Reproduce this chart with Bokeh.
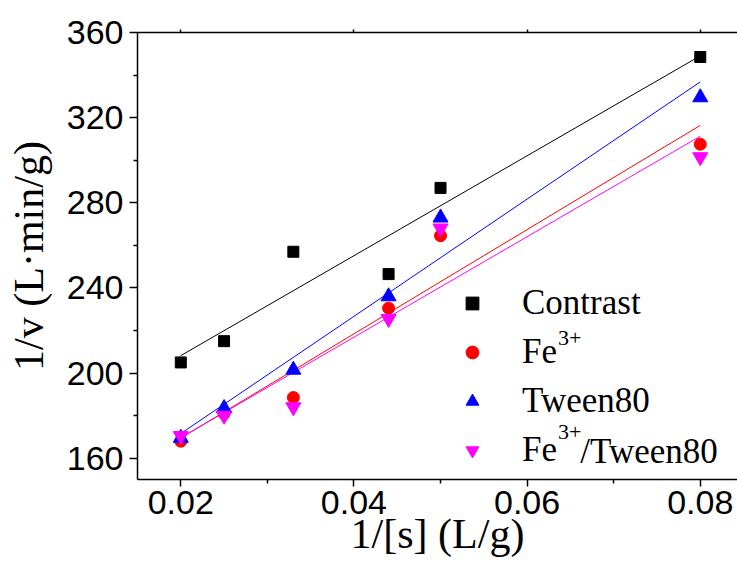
import numpy as np
from bokeh.plotting import figure
from bokeh.models import Legend, LegendItem, Label, LinearAxis, SingleIntervalTicker, Range1d, FixedTicker
from bokeh.embed import file_html
from bokeh.resources import INLINE

# ---- data ----
inv_s = [0.02, 0.025, 0.033, 0.044, 0.05, 0.08]
contrast = [205, 215, 257, 246.5, 287, 348.5]
fe = [168, 181, 188.5, 230.5, 264.5, 307.5]
tween = [169.5, 183.5, 201.5, 236, 273, 329.5]
fe_tween = [170.5, 180, 184, 225.5, 268, 301.5]
x_ticks = [0.02, 0.04, 0.06, 0.08]
y_ticks = [160, 200, 240, 280, 320, 360]

SERIF = "Liberation Serif"
SANS = "Liberation Sans"

p = figure(width=737, height=569, output_backend="svg", toolbar_location=None,
           x_range=Range1d(0.015, 0.0843), y_range=Range1d(150, 360),
           min_border_left=137, min_border_right=0, min_border_top=32, min_border_bottom=90,
           x_axis_location=None, y_axis_location=None)
p.outline_line_color = None
p.xgrid.visible = False
p.ygrid.visible = False
p.background_fill_color = "white"

def style_axis(ax, tick_out, minor_out):
    ax.axis_line_width = 1.5
    ax.axis_line_color = "black"
    ax.major_tick_in = 0
    ax.major_tick_out = tick_out
    ax.minor_tick_in = 0
    ax.minor_tick_out = minor_out
    ax.major_tick_line_width = 1.5
    ax.minor_tick_line_width = 1.5
    ax.major_label_text_font = SANS
    ax.major_label_text_font_size = "34px"
    ax.major_label_text_color = "black"
    ax.axis_label_text_font = SERIF
    ax.axis_label_text_font_size = "42px"
    ax.axis_label_text_font_style = "normal"
    ax.axis_label_text_color = "black"

yax = LinearAxis(ticker=FixedTicker(ticks=y_ticks, minor_ticks=[180, 220, 260, 300, 340]),
                 axis_label="1/v (L\u00b7min/g)")
style_axis(yax, 8, 4)
yax.major_label_standoff = 6
yax.axis_label_standoff = 12
p.add_layout(yax, "left")

xax = LinearAxis(ticker=FixedTicker(ticks=x_ticks, minor_ticks=[0.03, 0.05, 0.07]),
                 axis_label="1/[s] (L/g)")
style_axis(xax, 7, 4)
xax.major_label_standoff = 4
xax.axis_label_standoff = -6
p.add_layout(xax, "below")

tax = LinearAxis(ticker=FixedTicker(ticks=[], minor_ticks=x_ticks))
style_axis(tax, 0, 3)
p.add_layout(tax, "above")

series = [
    ("Contrast", contrast, "black", "square", 11),
    ("Fe", fe, "red", "circle", 12),
    ("Tween80", tween, "blue", "triangle", 15),
    ("Fe", fe_tween, "magenta", "inverted_triangle", 15),
]

xs = np.array(inv_s)
xfit = np.array([min(inv_s), max(inv_s)])
items = []
for name, ys, col, mk, sz in series:
    k, b = np.polyfit(xs, np.array(ys), 1)
    p.line(xfit, k * xfit + b, line_color=col, line_width=1)
for name, ys, col, mk, sz in series:
    r = p.scatter(inv_s, ys, marker=mk, size=sz, fill_color=col, line_color=col)
    items.append(LegendItem(label=name, renderers=[r]))

leg = Legend(items=items, location=(319, 9), orientation="vertical",
             border_line_color=None, background_fill_alpha=0,
             glyph_width=32, glyph_height=32, label_height=40,
             label_standoff=34, spacing=9, padding=0, margin=0,
             label_text_font=SERIF, label_text_font_size="35px", label_text_color="black")
p.add_layout(leg, "center")

def lab(x, y, t, size, **kw):
    p.add_layout(Label(x=x, y=y, text=t, text_font=SERIF, text_font_size=size,
                       text_color="black", **kw))

lab(0.06358, 216.5, "3+", "22px", text_align="left", text_baseline="alphabetic")
lab(0.06358, 172.3, "3+", "22px", text_align="left", text_baseline="alphabetic")
lab(0.06615, 163.1, "/Tween80", "35px", text_align="left", text_baseline="alphabetic")

open("out.html", "w").write(file_html(p, INLINE))
